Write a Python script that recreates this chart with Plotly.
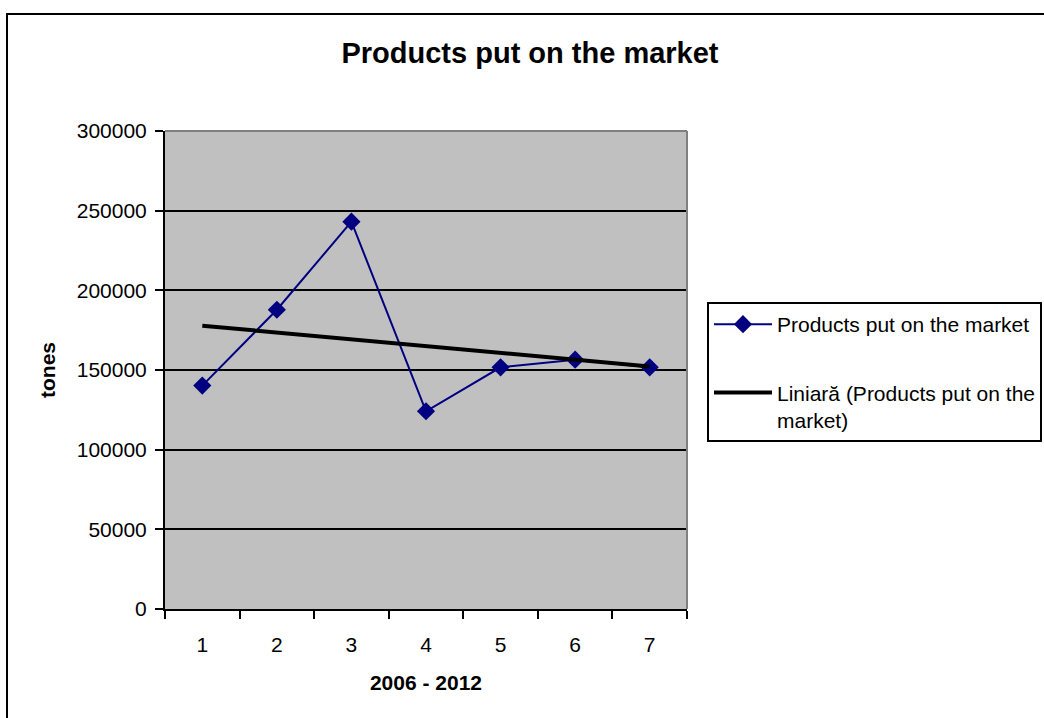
import numpy as np
import plotly.graph_objects as go

# Annual quantities (tonnes), periods 1..7 = 2006..2012
periods = ["1", "2", "3", "4", "5", "6", "7"]
tonnes = [140200, 187800, 243100, 124100, 151700, 156500, 151700]
y_ticks = [0, 50000, 100000, 150000, 200000, 250000, 300000]

series_name = "Products put on the market"
trend_name = "Liniară (Products put on the<br>market)"

# Linear trendline fitted to the series
idx = np.arange(1, len(tonnes) + 1)
slope, intercept = np.polyfit(idx, tonnes, 1)
trend = slope * idx + intercept

W, H = 1044, 718
L, R, T, B = 165, 687, 131, 609

FONT = "Liberation Sans, Arial, sans-serif"

fig = go.Figure()
fig.add_trace(go.Scatter(
    x=periods, y=tonnes, name=series_name, mode="lines+markers",
    line=dict(color="#000080", width=2),
    marker=dict(symbol="diamond", size=14, color="#000080"),
    legendgroup="a",
))
fig.add_trace(go.Scatter(
    x=periods, y=trend, name=trend_name, mode="lines",
    line=dict(color="black", width=4),
    legendgroup="b",
))

def px_x(p):
    return (p - L) / (R - L)

def px_y(p):
    return (B - p) / (B - T)

fig.update_layout(
    width=W, height=H,
    margin=dict(l=L, r=W - R, t=T, b=H - B, pad=0),
    paper_bgcolor="white",
    plot_bgcolor="#C0C0C0",
    font=dict(family=FONT, size=21, color="black"),
    title=dict(
        text="<b>Products put on the market</b>",
        font=dict(size=29, family=FONT, color="black"),
        x=530 / W, xanchor="center", xref="container",
        y=1 - 53 / H, yanchor="middle", yref="container",
    ),
    xaxis=dict(
        type="category", categoryorder="array", categoryarray=periods,
        range=[-0.5, 6.5],
        showline=True, linecolor="black", linewidth=2,
        ticks="outside", tickson="boundaries", ticklen=8, tickwidth=2, tickcolor="black",
        showgrid=False, zeroline=False,
        ticklabelstandoff=16,
        title=dict(text="<b>2006 - 2012</b>", font=dict(size=21), standoff=20),
        automargin=False,
    ),
    yaxis=dict(
        range=[0, 300000], tickvals=y_ticks, ticktext=[str(v) for v in y_ticks],
        showline=True, linecolor="black", linewidth=2,
        ticks="outside", ticklen=8, tickwidth=2, tickcolor="black",
        showgrid=True, gridcolor="black", gridwidth=2, zeroline=False,
        ticklabelstandoff=4,
        title=dict(text="<b>tones</b>", font=dict(size=21), standoff=15),
        automargin=False,
    ),
    legend=dict(
        xref="container", yref="container",
        x=707 / W, y=1 - 302 / H, xanchor="left", yanchor="top",
        bgcolor="white", bordercolor="black", borderwidth=2,
        font=dict(size=21, family=FONT),
        tracegroupgap=38, valign="top",
        traceorder="grouped", itemwidth=58,
    ),
    showlegend=True,
    shapes=[
        # plot-area frame (top and right edges)
        dict(type="line", xref="x domain", yref="y domain", x0=0, x1=1, y0=1, y1=1,
             line=dict(color="#808080", width=2), layer="above"),
        dict(type="line", xref="x domain", yref="y domain", x0=1, x1=1, y0=0, y1=1,
             line=dict(color="#808080", width=2), layer="above"),
        # chart-area border
        dict(type="rect", xref="paper", yref="paper",
             x0=px_x(7), x1=px_x(W + 20), y0=px_y(H + 20), y1=px_y(14),
             line=dict(color="black", width=2), fillcolor="rgba(0,0,0,0)", layer="below"),
    ],
)

fig.write_html("out.html")
